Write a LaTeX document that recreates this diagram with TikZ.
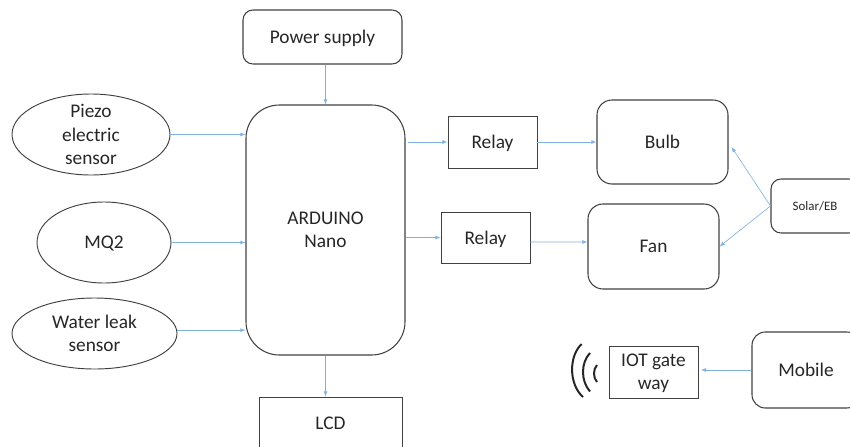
\documentclass[tikz,border=0pt]{standalone}
\usepackage{fontspec}
\setmainfont{Carlito}
\usepackage{xcolor}
\usetikzlibrary{shapes.geometric}
\definecolor{edgegray}{HTML}{404040}
\definecolor{linkblue}{HTML}{7FB2E0}

\begin{document}
\begin{tikzpicture}[
            font=\fontsize{16.5}{20}\selectfont,
            text=black!85,
            box/.style={draw=edgegray, line width=0.9pt, rounded corners=0.45cm, align=center, text depth=0pt, minimum width=3.93cm, minimum height=2.52cm},
            plain/.style={draw=black!75, line width=0.75pt, align=center, text depth=0pt, minimum width=2.67cm, minimum height=1.56cm},
            sensor/.style={ellipse, draw=edgegray, line width=0.8pt, minimum height=2.43cm},
            arrow/.style={->, line width=0.55pt, >=latex, draw=linkblue},
            wave/.style={line width=1.7pt, draw=black!85}
        ]
            \useasboundingbox (0,0) rectangle (25.5,13.38);

            % Controller in the middle
            \node[box, rounded corners=1cm, minimum width=4.77cm, minimum height=7.5cm] (arduino) at (9.765,6.48) {ARDUINO\\Nano};
            \node[box, rounded corners=0.3cm, minimum width=4.77cm, minimum height=1.62cm] (power) at (9.675,12.27) {Power supply};
            \node[plain, minimum width=4.29cm] (lcd) at (9.915,0.69) {LCD};

            % Sensors on left
            \node[sensor, minimum width=4.74cm, label={[align=center, text depth=0pt]center:{Piezo\\electric\\sensor}}] (piezo) at (2.73,9.345) {};
            \node[sensor, minimum width=4.02cm, label={[align=center, text depth=0pt]center:{MQ2}}] (mq2) at (3.12,6.105) {};
            \node[sensor, minimum width=4.95cm, minimum height=2.13cm, label={[align=center, text depth=0pt]center:{Water leak\\sensor}}] (water) at (2.835,3.375) {};

            % Relays and loads on right
            \node[plain] (relaya) at (14.775,9.12) {Relay};
            \node[plain, minimum height=1.53cm] (relayb) at (14.565,6.255) {Relay};
            \node[box] (bulb) at (19.875,9.12) {Bulb};
            \node[box, minimum height=2.55cm] (fan) at (19.605,5.985) {Fan};
            \node[box, rounded corners=0.3cm, minimum width=2.64cm, minimum height=1.62cm, font=\fontsize{11}{13}\selectfont] (solar) at (24.45,7.2) {Solar/EB};

            % Gateway and mobile
            \node[plain] (iot) at (19.605,2.22) {IOT gate\\way};
            \node[box, rounded corners=0.4cm, minimum width=3.24cm, minimum height=2.28cm] (mobile) at (24.18,2.28) {Mobile};

            % Signal waves next to the gateway
            \draw[wave] (17.45,3.06) .. controls (17.06,2.7) and (17.06,1.85) .. (17.49,1.47);
            \draw[wave] (17.7,2.79) .. controls (17.42,2.5) and (17.42,1.95) .. (17.7,1.635);
            \draw[wave] (17.91,2.43) .. controls (17.79,2.3) and (17.79,2.05) .. (17.91,1.92);

            % Connecting arrows
            \draw[arrow] (arduino.north |- power.south) -- (arduino.north);
            \draw[arrow] (piezo.east) -- (arduino.west |- piezo);
            \draw[arrow] (mq2.east) -- (arduino.west |- mq2);
            \draw[arrow] ([yshift=0.1cm]water.east) -- ([yshift=0.1cm]arduino.west |- water);
            \draw[arrow] (arduino.south) -- (arduino.south |- lcd.north);

            \draw[arrow, shorten <=2pt] (arduino.east |- relaya) -- (relaya);
            \draw[arrow] (arduino.east |- relayb) -- (relayb);
            \draw[arrow] (relaya) -- (bulb);
            \draw[arrow] ([yshift=-0.135cm]relayb.east) -- ([yshift=0.135cm]fan.west);

            \draw[arrow] (solar.west) -- ([shift={(0.09,-0.15)}]bulb.east);
            \draw[arrow] (solar.west) -- (fan.east);
            \draw[arrow, shorten >=2pt] (mobile.west) -- (iot.east |- mobile.west);
        \end{tikzpicture}
\end{document}
